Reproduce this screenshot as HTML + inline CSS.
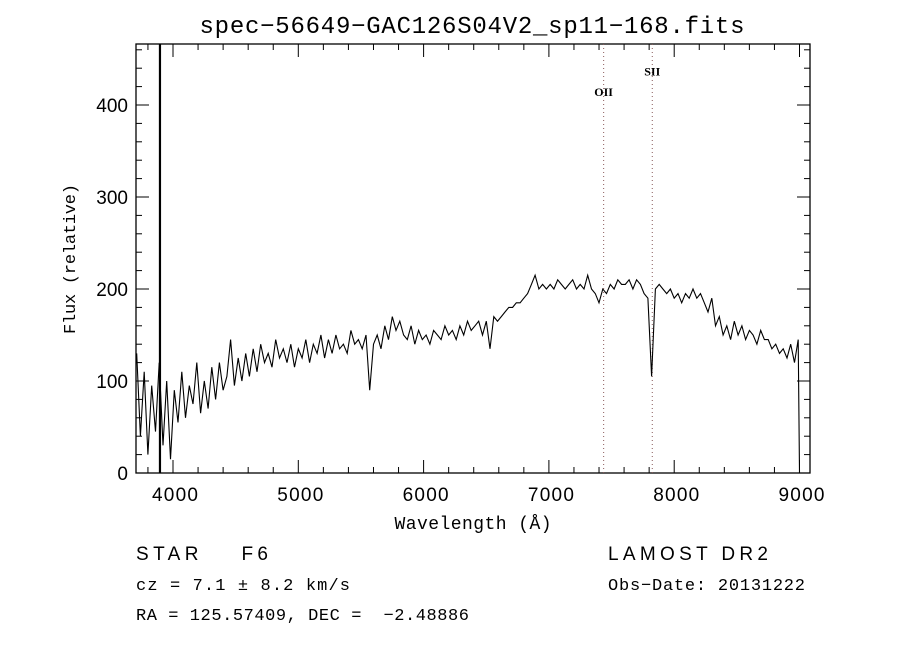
<!DOCTYPE html>
<html><head><meta charset="utf-8"><style>
body{margin:0;background:#fff;width:900px;height:650px;overflow:hidden}
svg{display:block}
text{white-space:pre}
.t{font-family:"Liberation Sans",sans-serif;font-size:19px;fill:#000}
.s{font-family:"Liberation Serif",serif;fill:#000}
.m{font-family:"Liberation Mono",monospace;fill:#000}
</style></head><body>
<svg id="c" width="900" height="650">
<text class="m" x="472" y="33" font-size="24" text-anchor="middle" textLength="545">spec−56649−GAC126S04V2_sp11−168.fits</text>
<rect x="136" y="44" width="674" height="429" fill="none" stroke="#000" stroke-width="1.3"/>
<g id="ticks"></g>
<g id="lines"></g>
<text class="m" x="75" y="259" font-size="17" text-anchor="middle" textLength="150" transform="rotate(-90 75 259)">Flux (relative)</text>
<text class="m" x="473" y="529" font-size="18" text-anchor="middle" textLength="157">Wavelength (Å)</text>
<text class="t" x="136" y="560" font-size="21" textLength="132">STAR    F6</text>
<text class="m" x="136" y="590" font-size="17" textLength="214">cz = 7.1 ± 8.2 km/s</text>
<text class="m" x="136" y="620" font-size="17" textLength="333">RA = 125.57409, DEC =  −2.48886</text>
<text class="t" x="608" y="560" font-size="21" textLength="160">LAMOST DR2</text>
<text class="m" x="608" y="590" font-size="17" textLength="197">Obs−Date: 20131222</text>
</svg>
<script>
const xTicks=[4000,5000,6000,7000,8000,9000];
const yTicks=[0,100,200,300,400];
const waveStart=3710, waveStep=30;
const flux=[130,40,110,20,95,45,120,30,100,15,
90,55,110,60,95,75,120,65,100,70,
115,80,120,90,105,145,95,125,100,130,
105,135,110,140,120,130,115,145,125,135,
120,140,115,135,125,145,120,140,130,150,
125,145,130,150,135,140,130,155,140,145,
135,150,90,140,150,135,160,145,170,155,
165,150,145,160,140,155,145,150,140,155,
150,145,160,150,155,145,160,150,165,155,
160,165,150,165,135,170,165,170,175,180,
180,185,185,190,195,205,215,200,205,200,
205,200,210,205,200,205,210,200,205,200,
215,200,195,185,200,195,205,200,210,205,
205,210,200,210,205,195,190,105,200,205,
200,195,200,190,195,185,195,190,200,190,
195,185,175,190,160,170,150,160,145,165,
150,160,145,155,150,140,155,145,145,135,
140,130,135,125,140,120,145];
const endWave=[9000,9002], endFlux=[0,0];
const skyLine=[3896];
const lineWaves=[7437,7825], lineNames=["OII","SII"], lineLabelFlux=[410,432];
const X=w=>173+(w-4000)*0.1253;
const Y=v=>473-v*0.92;
const NS="http://www.w3.org/2000/svg";
const svg=document.getElementById('c');
const tg=document.getElementById('ticks'), lg=document.getElementById('lines');
function mk(tag,a,p){const e=document.createElementNS(NS,tag);for(const k in a)e.setAttribute(k,a[k]);(p||svg).appendChild(e);return e;}
for(let w=3800;w<=9000;w+=200){const maj=w%1000===0;
 let e=mk('line',{x1:X(w),x2:X(w),y1:473,y2:473-(maj?13:6),stroke:'#000'},tg);
 
 
 e=mk('line',{x1:X(w),x2:X(w),y1:44,y2:44+(maj?13:6),stroke:'#000'},tg);
 
 }
xTicks.forEach(w=>{const t=mk('text',{x:X(w)+2,y:501,'text-anchor':'middle',class:'t',textLength:46},tg);t.textContent=w;
 
 });
for(let v=0;v<=460;v+=20){const maj=v%100===0;
 let e=mk('line',{x1:136,x2:136+(maj?13:6),y1:Y(v),y2:Y(v),stroke:'#000'},tg);
 
 
 e=mk('line',{x1:810,x2:810-(maj?13:6),y1:Y(v),y2:Y(v),stroke:'#000'},tg);
 
 }
yTicks.forEach(v=>{const t=mk('text',{x:128,y:Y(v)+7,'text-anchor':'end',class:'t'},tg);t.textContent=v;
 
 });
lineWaves.forEach((w,i)=>{let e=mk('line',{x1:X(w),x2:X(w),y1:44,y2:473,stroke:'#8a5a5a','stroke-dasharray':'1 3'},lg);
 
 
 const t=mk('text',{x:X(w),y:Y(lineLabelFlux[i]),'text-anchor':'middle',class:'s','font-size':'12','font-weight':'bold'},lg);t.textContent=lineNames[i];
 
 });
skyLine.forEach(w=>{const e=mk('line',{x1:X(w),x2:X(w),y1:44,y2:473,stroke:'#000','stroke-width':2.2},lg);
 
 });
let pts=flux.map((v,i)=>X(waveStart+i*waveStep).toFixed(1)+','+Y(v).toFixed(1));
endWave.forEach((w,i)=>pts.push(X(w).toFixed(1)+','+Y(endFlux[i]).toFixed(1)));
const pl=mk('polyline',{points:pts.join(' '),fill:'none',stroke:'#000','stroke-width':1.1});


</script>
</body></html>
